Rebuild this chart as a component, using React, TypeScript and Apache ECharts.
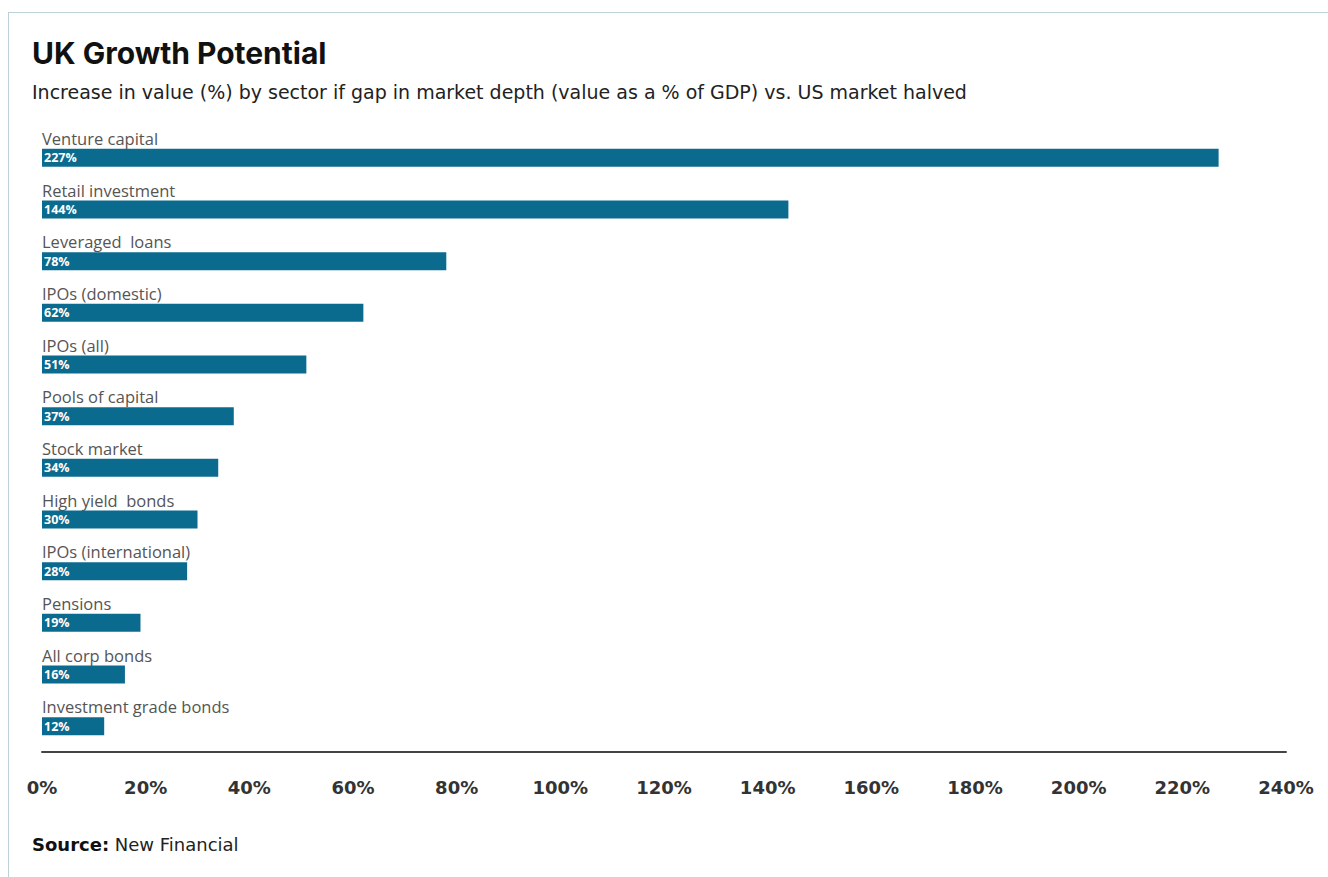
import React, { useEffect, useRef } from "react";
import * as echarts from "echarts";

const categories = [
  "Venture capital",
  "Retail investment",
  "Leveraged  loans",
  "IPOs (domestic)",
  "IPOs (all)",
  "Pools of capital",
  "Stock market",
  "High yield  bonds",
  "IPOs (international)",
  "Pensions",
  "All corp bonds",
  "Investment grade bonds",
];
const values = [227, 144, 78, 62, 51, 37, 34, 30, 28, 19, 16, 12];
const xMin = 0;
const xMax = 240;
const xStep = 20;

const title = "UK Growth Potential";
const subtitle =
  "Increase in value (%) by sector if gap in market depth (value as a % of GDP) vs. US market halved";

export default function App() {
  const ref = useRef<HTMLDivElement>(null);
  useEffect(() => {
    if (!ref.current) return;
    const chart = echarts.init(ref.current, null, { renderer: "svg" });
    chart.setOption({
      animation: false,
      backgroundColor: "#ffffff",
      title: [
        {
          text: title,
          left: 32,
          top: 38,
          padding: 0,
          textStyle: {
            fontFamily: "Inter",
            fontWeight: "bold",
            fontSize: 30,
            color: "#111111",
          },
        },
        {
          text: subtitle,
          left: 32,
          top: 82,
          padding: 0,
          textStyle: {
            fontFamily: "DejaVu Sans",
            fontWeight: "normal",
            fontSize: 19,
            color: "#222222",
          },
        },
        {
          text: "{b|Source:} New Financial",
          left: 32,
          top: 835,
          padding: 0,
          textStyle: {
            fontFamily: "DejaVu Sans",
            fontWeight: "normal",
            fontSize: 18,
            color: "#222222",
            rich: {
              b: { fontFamily: "DejaVu Sans", fontWeight: "bold", fontSize: 18, color: "#111111" },
            },
          },
        },
      ],
      grid: { left: 42, right: 42, top: 132, height: 620, containLabel: false },
      xAxis: {
        type: "value",
        min: xMin,
        max: xMax,
        interval: xStep,
        axisLine: { show: true, lineStyle: { color: "#444444", width: 2 } },
        axisTick: { show: false },
        splitLine: { show: false },
        axisLabel: {
          margin: 26,
          formatter: "{value}%",
          fontFamily: "DejaVu Sans",
          fontWeight: "bold",
          fontSize: 18,
          color: "#333333",
        },
      },
      yAxis: {
        type: "category",
        data: categories,
        inverse: true,
        axisLine: { show: false },
        axisTick: { show: false },
        axisLabel: {
          inside: true,
          margin: 0,
          align: "left",
          verticalAlign: "bottom",
          padding: [0, 0, 11, 0],
          fontFamily: "Open Sans",
          fontSize: 16.5,
          color: "#555555",
        },
      },
      series: [
        {
          type: "bar",
          data: values,
          barWidth: 18,
          itemStyle: { color: "#0b6b8f" },
          label: {
            show: true,
            position: "insideLeft",
            distance: 2,
            formatter: "{c}%",
            fontFamily: "Open Sans",
            fontWeight: "bold",
            fontSize: 12.5,
            color: "#ffffff",
          },
        },
      ],
    });
    return () => chart.dispose();
  }, []);
  return (
    <div style={{ position: "fixed", left: 0, top: 0, width: 1328, height: 877 }}>
      <div ref={ref} style={{ position: "absolute", left: 0, top: 0, width: 1328, height: 877 }} />
      <div
        style={{
          position: "absolute",
          left: 8,
          top: 12,
          width: 1320,
          height: 865,
          borderTop: "1px solid #bcd2d8",
          borderLeft: "1px solid #bcd2d8",
          pointerEvents: "none",
          boxSizing: "border-box",
        }}
      />
    </div>
  );
}
